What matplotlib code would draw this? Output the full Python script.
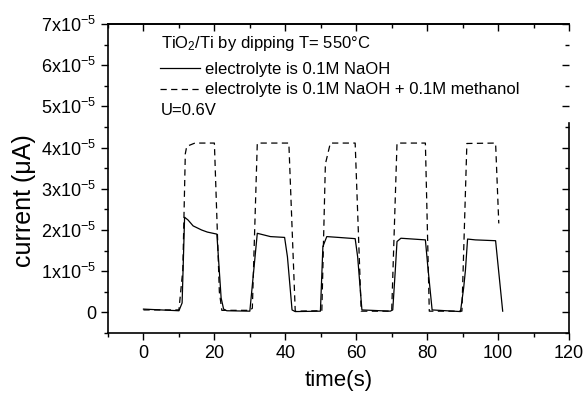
import matplotlib
matplotlib.use("Agg")
import matplotlib.pyplot as plt
from matplotlib.ticker import MultipleLocator, FixedLocator, FuncFormatter, NullFormatter

plt.rcParams['font.family'] = ['Liberation Sans', 'DejaVu Sans']
plt.rcParams['mathtext.fontset'] = 'custom'
plt.rcParams['mathtext.rm'] = 'Liberation Sans'
plt.rcParams['mathtext.it'] = 'Liberation Sans:italic'
plt.rcParams['mathtext.bf'] = 'Liberation Sans:bold'

# Data (current in units of 1e-5)
t_naoh = [0, 10, 10.9, 11.6, 12.6, 14, 16.4, 18, 20.7, 21.9, 22.6, 23.5, 30, 32.1, 35.8, 39.8,
          40.6, 41.9, 42.8, 49.9, 50.6, 51.7, 55, 59.7, 60.4, 61.6, 69.6, 70.3, 71.0, 71.5, 72.6,
          79.5, 80.2, 81.4, 89.4, 90.3, 90.8, 91.4, 93.6, 99.3, 101.3]
i_naoh = [0.08, 0.04, 0.23, 2.31, 2.24, 2.10, 2.00, 1.95, 1.90, 0.35, 0.08, 0.04, 0.03, 1.92, 1.84, 1.82,
          1.35, 0.06, 0.02, 0.03, 1.60, 1.84, 1.82, 1.79, 1.35, 0.06, 0.03, 0.06, 1.00, 1.72, 1.80,
          1.76, 1.10, 0.06, 0.02, 0.60, 1.03, 1.78, 1.76, 1.74, 0.03]

t_meoh = [0, 10, 11.1, 11.8, 12.2, 14.5, 20, 21.4, 22.1, 30, 30.7, 32.1, 41, 42.8, 50.3, 51.3, 52.7,
          59.7, 61.4, 70, 71.5, 79.5, 80.6, 89.8, 91.2, 99.3, 100.2]
i_meoh = [0.06, 0.06, 1.03, 3.85, 4.03, 4.11, 4.11, 0.50, 0.05, 0.05, 0.10, 4.11, 4.11, 0.03, 0.04, 3.60, 4.11,
          4.11, 0.03, 0.03, 4.11, 4.11, 0.03, 0.03, 4.10, 4.11, 2.16]

scale = 1e-5
xticks_major = [0, 20, 40, 60, 80, 100, 120]
yticks_major = [0, 1, 2, 3, 4, 5, 6, 7]

fig = plt.figure(figsize=(5.86, 3.96), dpi=100)
ax = fig.add_axes([108/586, 63/396, 461/586, 309/396])

ax.plot(t_naoh, [v*scale for v in i_naoh], color='black', lw=0.9, label='electrolyte is 0.1M NaOH')
ax.plot(t_meoh, [v*scale for v in i_meoh], color='black', lw=0.9, linestyle=(0, (5, 3.5)),
        label='electrolyte is 0.1M NaOH + 0.1M methanol')

ax.set_xlim(-10, 120)
ax.set_ylim(-0.5e-5, 7e-5)

ax.xaxis.set_major_locator(FixedLocator(xticks_major))
ax.xaxis.set_minor_locator(MultipleLocator(10))
ax.yaxis.set_major_locator(FixedLocator([v*scale for v in yticks_major]))
ax.yaxis.set_minor_locator(MultipleLocator(0.5e-5))

def yfmt(v, pos):
    n = int(round(v/scale))
    if n == 0:
        return '0'
    return r'%dx10$^{-5}$' % n
ax.yaxis.set_major_formatter(FuncFormatter(yfmt))

ax.tick_params(axis='both', which='both', direction='out', top=False, right=False, labelsize=13)
ax.tick_params(which='major', length=5, width=1)
ax.tick_params(which='minor', length=3, width=1)
for side in ['left', 'bottom', 'top']:
    ax.spines[side].set_linewidth(1.2)
ax.spines['right'].set_visible(False)

# top and right axes with inward ticks
secx = ax.secondary_xaxis('top')
secx.xaxis.set_major_locator(FixedLocator(xticks_major))
secx.xaxis.set_minor_locator(MultipleLocator(10))
secx.xaxis.set_major_formatter(NullFormatter())
secx.tick_params(which='both', direction='in', width=1)
secx.tick_params(which='major', length=5)
secx.tick_params(which='minor', length=3)
secx.spines['top'].set_linewidth(1.2)

secy = ax.secondary_yaxis('right')
secy.yaxis.set_major_locator(FixedLocator([v*scale for v in yticks_major]))
secy.yaxis.set_minor_locator(MultipleLocator(0.5e-5))
secy.yaxis.set_major_formatter(NullFormatter())
secy.tick_params(which='both', direction='in', width=1)
secy.tick_params(which='major', length=5)
secy.tick_params(which='minor', length=3)
secy.spines['right'].set_linewidth(1.2)
secy.spines['right'].set_bounds(-0.5e-5, 4.6e-5)

ax.set_xlabel('time(s)', fontsize=16, labelpad=6)
ax.set_ylabel('current (μA)', fontsize=18)
ax.yaxis.set_label_coords(-0.157, 0.43)

ax.text(0.115, 0.938, 'TiO$_2$/Ti by dipping T= 550°C', transform=ax.transAxes,
        fontsize=12, va='center', ha='left')
leg = ax.legend(loc='upper left', bbox_to_anchor=(0.112, 0.877), frameon=False, fontsize=12,
                handlelength=2.4, handletextpad=0.35, labelspacing=0.32, borderpad=0, borderaxespad=0)
ax.text(0.115, 0.72, 'U=0.6V', transform=ax.transAxes, fontsize=12, va='center', ha='left')

fig.savefig('out.png', dpi=100)
